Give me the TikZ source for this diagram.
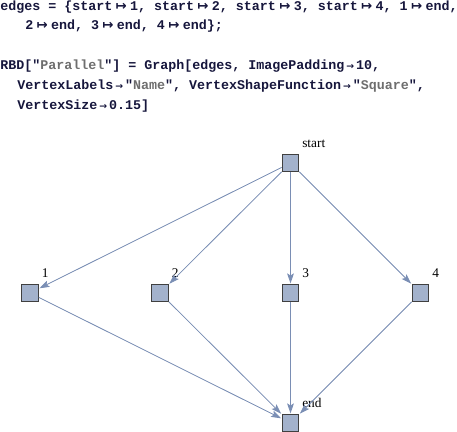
\documentclass[tikz,border=0pt]{standalone}
\usepackage{fontspec}
\setmainfont{Liberation Serif}
\setmonofont{Liberation Mono}
\newfontfamily\arrowfont{DejaVu Sans}
\usetikzlibrary{arrows.meta, positioning}
\definecolor{VF}{RGB}{163,178,204}
\definecolor{VD}{RGB}{64,64,64}
\definecolor{EB}{RGB}{122,142,180}
\definecolor{TX}{RGB}{22,22,60}
\definecolor{SG}{RGB}{110,110,110}
\newcommand{\mto}{\kern2.5pt{\arrowfont\fontsize{10}{10}\selectfont ↦}\kern2.5pt}
\newcommand{\rto}{\kern1.5pt{\arrowfont\fontsize{7}{10}\selectfont →}\kern1.5pt}
\newcommand{\gstr}[1]{"\textcolor{SG}{#1}"}

\begin{document}
\begin{tikzpicture}[
  x=0.75pt, y=-0.75pt,
  code/.style={anchor=base west, inner sep=0pt, text=TX,
               font=\ttfamily\bfseries\fontsize{10}{12}\selectfont},
  vtx/.style={draw=VD, fill=VF, line width=0.8pt, minimum size=12.5pt,
              inner sep=0pt, label={[anchor=south west, inner sep=0pt,
              xshift=2pt, yshift=4.5pt, font=\fontsize{10}{12}\selectfont]north east:#1}},
  edg/.style={-{Stealth[length=7.5pt, width=5pt, inset=1.5pt]}, draw=EB,
              fill=EB, line width=0.6pt, shorten >=0.5pt}
]
\useasboundingbox (0,0) rectangle (457,432);

% Input cell
\node[code] (l1) at (0,10.5)
  {edges = \{start\mto1, start\mto2, start\mto3, start\mto4, 1\mto end,};
\node[code] (l2) at (25,29.5) {2\mto end, 3\mto end, 4\mto end\};};
\node[code] (l3) at (0,69)
  {RBD[\gstr{Parallel}] = Graph[edges, ImagePadding\rto10,};
\node[code] (l4) at (17,89)
  {VertexLabels\rto\gstr{Name}, VertexShapeFunction\rto\gstr{Square},};
\node[code] (l5) at (17,109) {VertexSize\rto0.15]};

% Vertices
\node[vtx=start] (start) at (290.5,163) {};
\node[vtx=1] (v1) at (30,293) {};
\node[vtx=2] (v2) at (160,293) {};
\node[vtx=3] (v3) at (290.5,293) {};
\node[vtx=4] (v4) at (420.5,293) {};
\node[vtx=end] (end) at (290.5,423) {};

% Edges
\foreach \v in {v1,v2,v3,v4} {
  \draw[edg] (start) -- (\v);
  \draw[edg] (\v) -- (end);
}
\end{tikzpicture}
\end{document}
